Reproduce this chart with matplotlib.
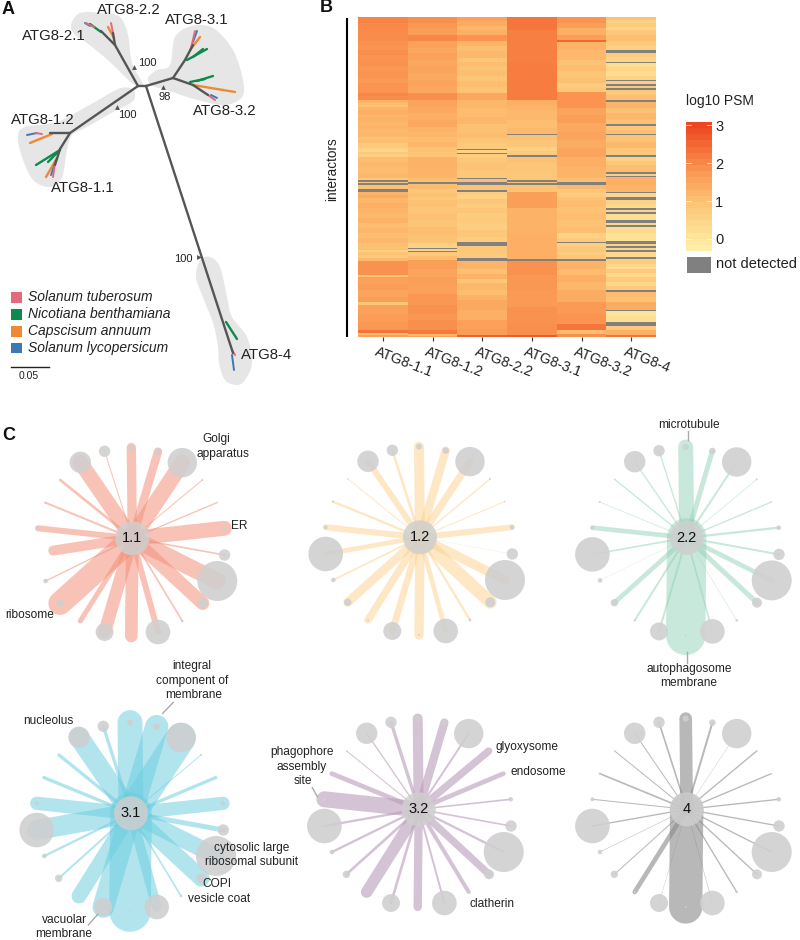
import numpy as np
import matplotlib
matplotlib.use("Agg")
import matplotlib.pyplot as plt
from matplotlib.colors import LinearSegmentedColormap, Normalize
from matplotlib.patches import PathPatch, Rectangle
from matplotlib.path import Path

plt.rcParams['font.family'] = ['Liberation Sans', 'DejaVu Sans']
TXT = '#222222'

# ---------- Panel A data (tree, page pixel units) ----------
tree_trunk = [((138, 86), (115, 45)), ((115, 45), (101, 31)), ((115, 45), (113, 33)),
              ((138, 86), (70, 133)), ((70, 133), (50, 133)), ((70, 133), (60, 149)), ((60, 149), (55, 165)),
              ((138, 86), (146, 86)), ((146, 86), (173, 78)), ((173, 78), (185, 60)), ((185, 60), (193, 45)),
              ((173, 78), (193, 85)), ((193, 85), (208, 95)), ((146, 86), (233, 353))]
leaves_pink = [((86, 23), (94, 27)), ((111, 23), (113, 33)), ((35, 133), (42, 134)), ((53, 177), (55, 163)),
               ((195, 31), (191, 48)), ((215, 100), (208, 95)), ((232, 350), (235, 355))]
leaves_green = [((90, 24), (101, 32)), ((36, 165), (60, 150)), ((48, 162), (60, 150)), ((207, 49), (187, 60)),
                ((203, 49), (193, 57)), ((213, 76), (197, 81)), ((205, 79), (190, 82)), ((226, 322), (237, 339))]
leaves_orange = [((108, 27), (114, 38)), ((30, 143), (52, 134)), ((46, 177), (57, 158)),
                 ((200, 37), (190, 50)), ((235, 92), (193, 85))]
leaves_blue = [((85, 23), (90, 26)), ((27, 135), (37, 133)), ((51, 175), (56, 160)),
               ((197, 31), (193, 42)), ((217, 98), (211, 95)), ((232, 355), (234, 370))]
blob_2x = [(71, 25), (80, 13), (103, 13), (120, 17), (128, 35), (132, 63), (143, 85), (132, 83), (110, 62), (87, 43), (75, 35)]
blob_3x = [(148, 78), (157, 70), (170, 65), (175, 37), (192, 26), (213, 28), (233, 50), (243, 80), (242, 97),
           (227, 105), (210, 103), (187, 97), (167, 90), (153, 86)]
blob_1x = [(135, 93), (132, 102), (113, 112), (87, 127), (72, 135), (67, 150), (62, 177), (50, 187), (33, 180),
           (22, 157), (18, 137), (25, 127), (57, 122), (93, 103), (118, 89), (130, 88)]
blob_4 = [(196, 277), (200, 260), (210, 257), (220, 267), (227, 297), (232, 317), (247, 337), (252, 363),
          (245, 380), (237, 385), (225, 380), (219, 363), (218, 347), (213, 323), (202, 295)]
tree_labels = ['ATG8-2.2', 'ATG8-2.1', 'ATG8-3.1', 'ATG8-3.2', 'ATG8-1.2', 'ATG8-1.1', 'ATG8-4']
tree_label_xy = [(128.5, 9.5), (53.5, 36.5), (196.5, 20), (225, 111), (42.5, 120), (82.5, 187.5), (266.5, 355)]
boot_labels = ['100', '98', '100', '100']
boot_label_xy = [(147, 63.5), (165, 96.5), (127, 115), (183.5, 259)]
boot_tri_xy = [(133.5, 66.5), (162.5, 86.5), (116.5, 106.5), (198.5, 256.5)]
species = ['Solanum tuberosum', 'Nicotiana benthamiana', 'Capscisum annuum', 'Solanum lycopersicum']
species_colors = ['#E4697A', '#0F8A4F', '#EE8A33', '#3B78B5']
species_y = [297.3, 314.5, 331.5, 348]

# ---------- Panel B data: (row position where the band ends, log10 PSM); None = not detected ----------
conditions = ['ATG8-1.1', 'ATG8-1.2', 'ATG8-2.2', 'ATG8-3.1', 'ATG8-3.2', 'ATG8-4']
heat_11 = [(70, 2.15), (95, 2.05), (125, 2.0), (135, 1.9), (150, 1.85), (165, 1.95), (180, 1.85), (200, 1.9),
           (215, 1.8), (235, 1.85), (250, 1.75), (280, 1.85), (290, 2.1), (300, 2.0), (308, 1.3), (315, 1.1),
           (322, .95), (330, 1.25), (345, 1.35), (352, 1.15), (365, 1.3), (378, 1.2), (388, 1.3), (400, 1.15),
           (410, 1.2), (418, .95), (428, 1.05), (440, .8), (447, .65), (456, .45), (463, .75), (470, .6),
           (485, 1.05), (500, 1.15), (520, 1.1), (535, 1.15), (540, .85), (546, None), (549, .9), (556, None),
           (568, 1.0), (576, None), (585, 1.3), (595, 1.4), (610, 1.2), (625, 1.35), (640, 1.25), (655, 1.15),
           (670, 1.3), (685, 1.1), (700, 1.2), (715, 1.05), (730, 1.15), (750, 1.0), (756, .55), (765, .95),
           (772, .75), (782, 1.15), (825, 1.9), (830, .9), (850, 1.6), (870, 1.7), (890, 1.55), (905, 1.65),
           (915, .85), (940, 1.6), (965, 1.7), (990, 1.8), (998, 2.4), (1003, 1.1), (1010, 1.6)]
heat_12 = [(70, 1.95), (85, 1.8), (105, 1.7), (125, 2.1), (145, 1.6), (160, 1.5), (180, 1.6), (200, 1.5),
           (220, 1.55), (240, 1.45), (260, 1.55), (280, 1.5), (300, 1.95), (320, 1.55), (340, 1.45), (360, 1.35),
           (380, 1.45), (395, 1.3), (410, 1.2), (425, 1.1), (440, 1.2), (455, 1.0), (470, .9), (500, 1.3),
           (535, 1.25), (546, 1.05), (552, None), (568, 1.1), (578, .85), (590, 1.0), (600, .85), (620, 1.0),
           (640, .9), (660, 1.0), (680, .9), (705, 1.05), (730, .95), (743, .6), (746, None), (752, .55),
           (755, None), (768, .75), (780, 1.1), (805, 1.65), (830, 1.55), (855, 1.65), (880, 1.6), (915, 1.8),
           (940, 1.9), (960, 1.8), (990, 1.95), (1000, 2.3), (1006, 1.2), (1010, 1.6)]
heat_22 = [(65, 1.6), (80, 1.4), (92, 1.2), (105, 1.35), (125, 1.85), (140, 1.25), (155, 1.05), (175, 1.15),
           (188, .9), (200, 1.1), (215, .95), (230, 1.05), (245, .9), (262, 1.05), (280, .95), (300, 1.5),
           (325, 1.2), (350, 1.1), (372, 1.2), (400, 1.0), (415, 1.1), (430, .9), (446, .8), (450, None),
           (460, .55), (463, None), (475, .65), (490, .85), (510, .95), (533, .85), (538, None), (546, 1.05),
           (555, None), (569, .95), (575, None), (585, .7), (597, .55), (612, .85), (625, .7), (640, .9),
           (655, .7), (670, .8), (690, .65), (710, .85), (725, .7), (738, None), (755, .85), (772, .75),
           (783, None), (805, 1.25), (820, 1.0), (835, 1.3), (848, .85), (870, 1.2), (885, 1.05), (900, 1.3),
           (930, 1.45), (960, 1.35), (985, 1.6), (1003, 1.7), (1010, 2.7)]
heat_31 = [(90, 2.35), (190, 2.2), (300, 2.25), (315, 1.35), (330, 1.25), (360, 1.15), (385, 1.05), (403, 1.15),
           (406, None), (420, 1.0), (440, .9), (453, .6), (466, .75), (470, None), (490, 1.0), (515, .9),
           (541, .85), (545, None), (548, .95), (554, None), (575, .95), (625, 1.65), (700, 1.3), (775, 1.35),
           (781, None), (825, 1.9), (870, 1.8), (920, 1.75), (970, 1.9), (1003, 1.95), (1010, 2.8)]
heat_32 = [(70, 1.85), (85, 1.65), (105, 1.35), (120, 1.65), (127, 2.6), (150, 1.3), (180, 1.15), (195, .95),
           (215, 1.1), (235, .9), (250, 1.0), (265, .7), (278, .85), (325, 1.85), (345, 1.55), (370, 1.65),
           (395, 1.45), (420, 1.55), (445, 1.4), (470, 1.55), (500, 1.35), (535, 1.25), (547, 1.05), (556, None),
           (568, 1.15), (580, .85), (592, .7), (600, .95), (620, 1.1), (640, .95), (660, 1.05), (680, .95),
           (700, 1.05), (715, .55), (725, .75), (730, None), (742, .65), (755, .85), (765, .65), (775, .85),
           (781, None), (805, 1.3), (825, 1.1), (845, 1.35), (870, 1.2), (905, 1.4), (940, 1.75), (970, 1.85),
           (988, 2.35), (1000, 1.05), (1010, 1.95)]
heat_4 = [(60, .95), (70, .55), (82, .8), (92, .45), (105, .85), (125, 1.05), (138, .8), (150, .6), (160, None),
          (172, .7), (186, .5), (190, None), (203, .25), (215, .45), (230, .25), (241, .5), (245, None), (252, .65),
          (258, None), (265, .85), (270, None), (285, .8), (301, 1.05), (306, None), (325, 1.25), (340, 1.0),
          (358, 1.2), (373, 1.0), (377, None), (390, .85), (401, 1.05), (405, None), (425, .95), (445, 1.15),
          (466, .85), (470, None), (482, .6), (495, .85), (516, 1.05), (522, None), (529, .65), (532, None),
          (555, 1.35), (575, 1.25), (579, None), (590, .45), (600, None), (612, .55), (625, .3), (630, None),
          (637, .5), (643, None), (660, .2), (670, None), (675, .4), (682, None), (700, .3), (722, .1),
          (733, None), (738, .55), (745, None), (749, .5), (755, None), (770, .35), (776, None), (790, .7),
          (800, .45), (805, .2), (818, .75), (830, .35), (845, .8), (858, .45), (868, .75), (875, None),
          (890, 1.1), (905, .95), (928, 1.4), (932, None), (948, .05), (965, .2), (976, None), (990, .8),
          (1005, 1.35), (1010, 2.4)]
heat_columns = [heat_11, heat_12, heat_22, heat_31, heat_32, heat_4]
cbar_ticks = [0, 1, 2, 3]

# ---------- Panel C data (pixels relative to each hub, page units) ----------
node_dx = [-1, 25.7, 50, 70, 84.7, 92, 92.3, 85, 70.3, 50, 25.7, -1, -27.7, -52, -72.3, -86.7, -94.3, -94.3, -87, -72, -52, -27.7]
node_dy = [-90.7, -86.7, -75.7, -58.3, -35.7, -10, 16.7, 42.7, 65, 82.7, 93.7, 97.7, 93.7, 82.7, 65, 42.7, 16.7, -10, -35.7, -58.3, -76, -87]
node_r = [3, 3.3, 14.7, 1, .7, 2.3, 5.7, 20, 5, 1.3, 12.3, 1, 9, 1, 3.7, 2.3, 17.3, 2, 1, .7, 10.7, 5.7]
# edge widths in 1/3 pixel units
edge_11 = [28, 25, 48, 3, 4, 45, 5, 50, 40, 5, 18, 38, 38, 15, 70, 4, 30, 18, 6, 8, 45, 3]
edge_12 = [30, 25, 22, 4, 3, 18, 1, 28, 38, 7, 14, 28, 20, 22, 26, 5, 14, 18, 7, 3, 18, 8]
edge_22 = [45, 15, 6, 2, 4, 7, 6, 14, 15, 1.5, 5, 118, 6, 6, 14, 1, 5, 14, 2, 4, 4, 4]
edge_31 = [75, 70, 90, 3, 10, 40, 15, 50, 50, 5, 30, 125, 65, 45, 6, 7, 60, 40, 10, 10, 60, 10]
edge_32 = [30, 25, 6, 22, 14, 5, 5, 7, 22, 12, 6, 25, 8, 35, 8, 7, 7, 48, 14, 3, 4, 10]
edge_4 = [38, 6, 1, 4, 4, 4, 4, 4, 4, 4, 1.5, 100, 1, 14, 3, 1.5, 4, 3, 5, 3, 3, 5]
net_names = ['1.1', '1.2', '2.2', '3.1', '3.2', '4']
net_hubs = [(132.3, 538.3), (420, 537.3), (686.7, 537.7), (131, 813.3), (418.7, 809.3), (686.7, 809.3)]
net_edges = [edge_11, edge_12, edge_22, edge_31, edge_32, edge_4]
net_colors = ['#F4907A', '#FDD08A', '#93D2B8', '#6CCDE0', '#B89BB9', '#8A8A8A']
net_alpha = [.55, .5, .5, .52, .6, .6]
net11_node17 = (-79, 12.3)
go_lines = ['Golgi', 'apparatus', 'ER', 'ribosome', 'microtubule', 'autophagosome', 'membrane', 'integral',
            'component of', 'membrane', 'nucleolus', 'cytosolic large', 'ribosomal subunit', 'COPI', 'vesicle coat',
            'vacuolar', 'membrane', 'phagophore', 'assembly', 'site', 'clatherin', 'glyoxysome', 'endosome']
go_xy = [(216, 439), (222.5, 454), (239, 526), (29.5, 614.5), (688.5, 425), (689, 668.7), (689, 683.3), (191.7, 666),
         (191.7, 680.7), (193.3, 695), (48.3, 720.7), (252, 848), (252, 862), (217.3, 884.3), (219, 899),
         (64, 919.7), (63.3, 934), (301.7, 752.3), (301.7, 767), (303.3, 781.3), (492.3, 903.7), (526.7, 746.7), (538, 771.7)]
go_leaders = [((687.7, 431), (687.7, 440)), ((687, 652), (687, 663)), ((162.7, 713.3), (173.3, 702.3)),
              ((88.3, 925), (97.7, 914.3)), ((312.3, 787.7), (317.3, 796.7))]

# ---------- Drawing ----------
fig = plt.figure(figsize=(8, 9.4), dpi=100)
ax = fig.add_axes([0, 0, 1, 1])
ax.set_xlim(0, 800)
ax.set_ylim(940, 0)
ax.axis('off')


def blob(points):
    # closed Catmull-Rom outline through the outline points
    p = np.array(points, float)
    n = len(p)
    verts = [p[0]]
    codes = [Path.MOVETO]
    for i in range(n):
        p0, p1, p2, p3 = p[(i - 1) % n], p[i], p[(i + 1) % n], p[(i + 2) % n]
        verts += [p1 + (p2 - p0) / 6, p2 - (p3 - p1) / 6, p2]
        codes += [Path.CURVE4] * 3
    return PathPatch(Path(verts, codes), fc='#E6E6E6', ec='none', zorder=1)


for b in (blob_2x, blob_3x, blob_1x, blob_4):
    ax.add_patch(blob(b))


def segs(lst, color, lw, z):
    for (a, c) in lst:
        ax.plot([a[0], c[0]], [a[1], c[1]], color=color, lw=lw, solid_capstyle='round', zorder=z)


segs(leaves_orange, species_colors[2], 1.7, 2)
segs(leaves_green, species_colors[1], 1.7, 2.1)
segs(leaves_blue, species_colors[3], 1.4, 2.2)
segs(leaves_pink, species_colors[0], 1.4, 2.3)
segs(tree_trunk, '#555555', 1.7, 3)

for t, (x, y) in zip(tree_labels, tree_label_xy):
    ax.text(x, y, t, fontsize=10.8, ha='center', va='center', color=TXT, zorder=5)
for t, (x, y) in zip(boot_labels, boot_label_xy):
    ax.text(x, y, t, fontsize=8, ha='center', va='center', color=TXT, zorder=5)
for i, (x, y) in enumerate(boot_tri_xy):
    ax.plot(x, y, marker='>' if i == 3 else '^', ms=3.5, color='#555555', mew=0, zorder=5)
for c, y, t in zip(species_colors, species_y, species):
    ax.add_patch(Rectangle((10.7, y - 5.4), 11, 10.8, fc=c, ec='none'))
    ax.text(28.3, y, t, fontsize=10, style='italic', ha='left', va='center', color=TXT)
ax.plot([10.7, 48.7], [366.7, 366.7], color='#222222', lw=1)
ax.text(28.5, 376, '0.05', fontsize=7.5, ha='center', va='center', color=TXT)

for t, (x, y) in zip('ABC', [(8.3, 10), (326, 8), (8.3, 436)]):
    ax.text(x, y, t, fontsize=13, fontweight='bold', ha='center', va='center', color='#111111')

# Panel C
for name, hub, widths, col, al in zip(net_names, net_hubs, net_edges, net_colors, net_alpha):
    dx = list(node_dx)
    dy = list(node_dy)
    rr = list(node_r)
    if name == '1.1':
        dx[16], dy[16] = net11_node17
        rr[16] = 0
    for a, c, w in zip(dx, dy, widths):
        ax.plot([hub[0], hub[0] + a], [hub[1], hub[1] + c], color=col, alpha=al, lw=w / 3 * .72,
                solid_capstyle='round', zorder=6)
    for a, c, r in zip(dx, dy, rr):
        if r > 0:
            ax.add_patch(plt.Circle((hub[0] + a, hub[1] + c), r, fc='#CFCFCF', ec='none', alpha=.88, zorder=7))
    ax.add_patch(plt.Circle(hub, 17, fc='#CFCFCF', ec='none', alpha=.85, zorder=8))
    ax.text(hub[0], hub[1], name, fontsize=10.5, ha='center', va='center', color='#111111', zorder=9)

for t, (x, y) in zip(go_lines, go_xy):
    ax.text(x, y, t, fontsize=8.6, ha='center', va='center', color=TXT, zorder=10)
for a, c in go_leaders:
    ax.plot([a[0], c[0]], [a[1], c[1]], color='#AAAAAA', lw=1, zorder=10)

# Panel B
cmap = LinearSegmentedColormap.from_list('psm', [(0, '#FFEDA8'), (.09, '#FEE59A'), (.38, '#FDC274'),
                                                 (.68, '#F98C4A'), (.97, '#EF4B24'), (1, '#EE4722')])
cmap.set_bad('#808080')
norm = Normalize(-0.31, 3.1)
hx = fig.add_axes([358 / 800, 1 - 337 / 940, 298 / 800, 320 / 940])
for i, col in enumerate(heat_columns):
    ends = [52] + [e for e, _ in col]
    vals = np.ma.masked_invalid(np.array([np.nan if v is None else v for _, v in col], float))
    hx.pcolormesh([i, i + 1], ends, vals[:, None], cmap=cmap, norm=norm, antialiased=False, linewidth=0)
hx.set_xlim(0, 6)
hx.set_ylim(1010, 52)
hx.set_yticks([])
hx.set_xticks(np.arange(6) + .5)
hx.set_xticklabels([])
hx.tick_params(axis='x', length=3, width=.8, color='#333333')
for s in hx.spines.values():
    s.set_visible(False)
for i, t in enumerate(conditions):
    hx.annotate(t, xy=(i + .5, 0), xycoords=('data', 'axes fraction'), xytext=(-5, -10.5), textcoords='offset points',
                rotation=-21, rotation_mode='anchor', ha='left', va='center', fontsize=10.3, color=TXT)

ax.plot([347.3, 347.3], [18, 337], color='black', lw=1.5, solid_capstyle='butt')
ax.text(332, 169, 'interactors', fontsize=9.8, rotation=90, ha='center', va='center', color=TXT)

# Colour bar
cx = fig.add_axes([686 / 800, 1 - 250.7 / 940, 25.7 / 800, 129 / 940])
grad = np.linspace(3.1, -0.31, 21)[:, None]
cx.imshow(grad, cmap=cmap, norm=norm, aspect='auto', extent=(0, 1, -0.31, 3.1), interpolation='nearest')
cx.set_xticks([])
cx.set_yticks(cbar_ticks)
cx.yaxis.tick_right()
cx.tick_params(axis='y', length=0, labelsize=10.5, labelcolor=TXT, pad=2.5)
for s in cx.spines.values():
    s.set_visible(False)
for v in cbar_ticks:
    cx.plot([0, .2], [v, v], color='white', lw=.5)
    cx.plot([.8, 1], [v, v], color='white', lw=.5)
cx.set_xlim(0, 1)
cx.set_ylim(-0.31, 3.1)
ax.text(686.5, 101, 'log10 PSM', fontsize=10, ha='left', va='center', color=TXT)
ax.add_patch(Rectangle((686.5, 256.7), 24.5, 16, fc='#808080', ec='none'))
ax.text(716, 264.5, 'not detected', fontsize=10.5, ha='left', va='center', color=TXT)

fig.savefig('out.png', dpi=100)
